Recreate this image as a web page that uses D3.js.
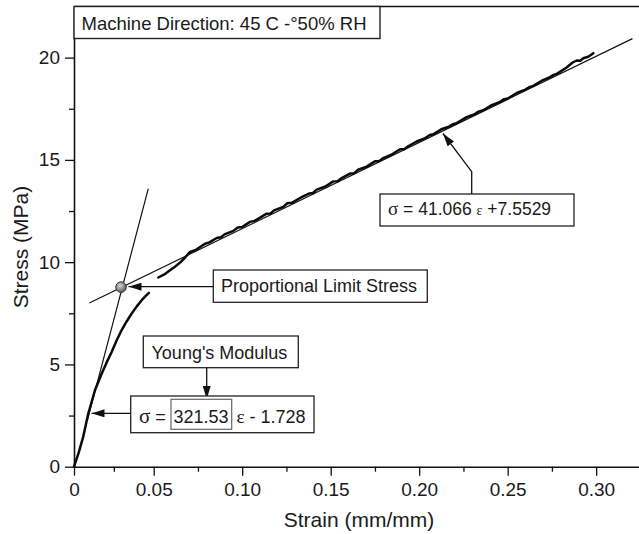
<!DOCTYPE html>
<html>
<head>
<meta charset="utf-8">
<script src="https://cdn.jsdelivr.net/npm/d3@7"></script>
<style>
  html, body { margin: 0; padding: 0; background: #fff; }
  svg { display: block; }
  text { font-family: "Liberation Sans", Arial, sans-serif; fill: #1a1a1a; }
</style>
</head>
<body>
<svg id="chart" width="639" height="534"></svg>
<script>
// ---------- data ----------
const strainTicks = [0, 0.05, 0.10, 0.15, 0.20, 0.25, 0.30];
const strainTickLabels = ["0", "0.05", "0.10", "0.15", "0.20", "0.25", "0.30"];
const strainMinorTicks = [0.025, 0.075, 0.125, 0.175, 0.225, 0.275];
const stressTicks = [0, 5, 10, 15, 20];
const stressMinorTicks = [2.5, 7.5, 12.5, 17.5];

// measured stress-strain curve, elastic part (strain, stress MPa)
const curveElastic = [
  [0, 0], [0.0030, 0.70], [0.0058, 1.47], [0.0090, 2.61], [0.0132, 3.75],
  [0.0174, 4.56], [0.0205, 5.10], [0.0237, 5.62], [0.0268, 6.18], [0.0299, 6.68],
  [0.0330, 7.10], [0.0362, 7.49], [0.0395, 7.85], [0.0425, 8.14], [0.0450, 8.35], [0.0470, 8.50]
];
// measured curve, plastic part
const curvePlastic = [
  [0.0526, 9.25], [0.0560, 9.40], [0.0592, 9.60], [0.0620, 9.78], [0.0649, 9.98],
  [0.0680, 10.25], [0.0705, 10.50], [0.0735, 10.58], [0.0762, 10.74], [0.0790, 10.90],
  [0.0815, 10.97], [0.0856, 11.18], [0.0880, 11.22], [0.0900, 11.36], [0.0950, 11.53],
  [0.0975, 11.70], [0.1000, 11.72], [0.1044, 11.97], [0.1070, 12.02], [0.1090, 12.12],
  [0.1138, 12.37], [0.1160, 12.38], [0.1180, 12.53], [0.1232, 12.70], [0.1255, 12.88],
  [0.1280, 12.90], [0.1330, 13.15], [0.1380, 13.36], [0.1400, 13.38], [0.1421, 13.55],
  [0.1470, 13.70], [0.1515, 13.95], [0.1540, 13.96], [0.1560, 14.10], [0.1609, 14.33],
  [0.1630, 14.33], [0.1655, 14.52], [0.1703, 14.67], [0.1750, 14.93], [0.1775, 14.95],
  [0.1797, 15.09], [0.1840, 15.24], [0.1892, 15.52], [0.1915, 15.52], [0.1940, 15.68],
  [0.1986, 15.90], [0.2030, 16.05], [0.2060, 16.22], [0.2080, 16.25], [0.2125, 16.50],
  [0.2168, 16.63], [0.2190, 16.74], [0.2212, 16.80], [0.2268, 17.09], [0.2310, 17.22],
  [0.2335, 17.36], [0.2362, 17.43], [0.2410, 17.68], [0.2457, 17.84], [0.2480, 17.97],
  [0.2500, 18.00], [0.2551, 18.27], [0.2600, 18.44], [0.2625, 18.57], [0.2645, 18.62],
  [0.2690, 18.86], [0.2739, 19.05], [0.2760, 19.16], [0.2780, 19.22], [0.2833, 19.52],
  [0.2865, 19.75], [0.2890, 19.86], [0.2910, 19.85], [0.2927, 19.97], [0.2955, 20.04],
  [0.2970, 20.13], [0.2984, 20.22]
];
// fitted lines (end points, strain / stress)
const plasticFit = [[0.0096, 8.0], [0.3205, 20.93]];
const youngFit = [[0.0085, 2.3], [0.0466, 13.6]];
const propLimit = [0.0295, 8.78];

const titleText = "Machine Direction: 45 C -°50% RH";
const xTitle = "Strain (mm/mm)";
const yTitle = "Stress (MPa)";

// ---------- drawing ----------
const svg = d3.select("#chart");
const x = d3.scaleLinear().domain([0, 0.05, 0.3242]).range([74, 153.7, 639]);
const y = d3.scaleLinear().domain([0, 22.5]).range([466.7, 6.5]);

const defs = svg.append("defs");
defs.append("marker").attr("id", "arr")
  .attr("viewBox", "0 0 13 8").attr("refX", 13).attr("refY", 4)
  .attr("markerWidth", 13).attr("markerHeight", 8)
  .attr("markerUnits", "userSpaceOnUse").attr("orient", "auto")
  .append("path").attr("d", "M0,0 L13,4 L0,8 Z").attr("fill", "#111");
const grad = defs.append("radialGradient").attr("id", "ball")
  .attr("cx", "40%").attr("cy", "38%").attr("r", "65%");
grad.append("stop").attr("offset", "0%").attr("stop-color", "#d8d8d8");
grad.append("stop").attr("offset", "100%").attr("stop-color", "#555");

// top frame line
svg.append("line").attr("x1", x(0)).attr("x2", 639)
  .attr("y1", y(22.5)).attr("y2", y(22.5))
  .attr("stroke", "#111").attr("stroke-width", 1.6);

// axes
svg.append("g").attr("transform", `translate(0,${y(0)})`)
  .call(d3.axisBottom(x).tickValues(strainTicks).tickSize(9).tickSizeOuter(0).tickPadding(7)
    .tickFormat((d, i) => strainTickLabels[i]));
svg.append("g").attr("transform", `translate(0,${y(0)})`)
  .call(d3.axisBottom(x).tickValues(strainMinorTicks).tickSize(5).tickSizeOuter(0).tickFormat(""))
  .select(".domain").remove();
svg.append("g").attr("transform", `translate(${x(0)},0)`)
  .call(d3.axisLeft(y).tickValues(stressTicks).tickSize(9).tickSizeOuter(0).tickPadding(5));
svg.append("g").attr("transform", `translate(${x(0)},0)`)
  .call(d3.axisLeft(y).tickValues(stressMinorTicks).tickSize(5).tickSizeOuter(0).tickFormat(""))
  .select(".domain").remove();
svg.selectAll(".domain").attr("stroke", "#111").attr("stroke-width", 1.6);
svg.selectAll(".tick line").attr("stroke", "#111").attr("stroke-width", 1.3);
svg.selectAll(".tick text").style("font-family", "Liberation Sans, Arial, sans-serif")
  .style("font-size", "19px").attr("fill", "#1a1a1a");

// axis titles
svg.append("text").attr("x", 359).attr("y", 527).attr("text-anchor", "middle")
  .style("font-size", "21px").text(xTitle);
svg.append("text").attr("transform", "translate(28,247) rotate(-90)").attr("text-anchor", "middle")
  .style("font-size", "21px").text(yTitle);

// fitted lines
const line = d3.line().x(d => x(d[0])).y(d => y(d[1]));
svg.append("path").attr("d", line(plasticFit)).attr("fill", "none")
  .attr("stroke", "#111").attr("stroke-width", 1.2);
svg.append("path").attr("d", line(youngFit)).attr("fill", "none")
  .attr("stroke", "#111").attr("stroke-width", 1.2);

// measured curve
[curveElastic, curvePlastic].forEach(c => {
  svg.append("path").attr("d", line(c)).attr("fill", "none")
    .attr("stroke", "#0a0a0a").attr("stroke-width", 2.5)
    .attr("stroke-linejoin", "round").attr("stroke-linecap", "round");
});

// proportional limit point
svg.append("circle").attr("cx", x(propLimit[0])).attr("cy", y(propLimit[1])).attr("r", 5.3)
  .attr("fill", "url(#ball)").attr("stroke", "#333").attr("stroke-width", 1);

// ---------- annotations ----------
function box(x0, y0, w, h, sw, col) {
  svg.append("rect").attr("x", x0).attr("y", y0).attr("width", w).attr("height", h)
    .attr("fill", "#fff").attr("stroke", col || "#222").attr("stroke-width", sw || 1.3);
}
function arrow(pts) {
  svg.append("path").attr("d", d3.line()(pts)).attr("fill", "none")
    .attr("stroke", "#111").attr("stroke-width", 1.3).attr("marker-end", "url(#arr)");
}

// title box
box(x(0), y(22.5), 306, 32, 1.4);
svg.append("text").attr("x", 81.5).attr("y", 30).style("font-size", "18.5px").text(titleText);

// plastic fit equation
arrow([[471.7, 194], [471.7, 171.7], [443, 133.5]]);
box(380, 194, 194, 32);
const t1 = svg.append("text").attr("x", 388).attr("y", 215).style("font-size", "17.5px");
t1.append("tspan").style("font-family", "Liberation Serif, serif").style("font-size", "19px").text("σ");
t1.append("tspan").text(" = 41.066 ");
t1.append("tspan").style("font-family", "Liberation Serif, serif").style("font-size", "14px").text("ε");
t1.append("tspan").text(" +7.5529");

// proportional limit stress
arrow([[213.3, 286.7], [128.5, 286.7]]);
box(213.3, 270, 214, 32.3);
svg.append("text").attr("x", 221).attr("y", 292.3).style("font-size", "18px").text("Proportional Limit Stress");

// Young's modulus
box(143.3, 336, 155, 31.7);
svg.append("text").attr("x", 151.5).attr("y", 359).style("font-size", "18px").text("Young's Modulus");
arrow([[206.7, 367.7], [206.7, 399]]);

// elastic fit equation
arrow([[130.7, 413.3], [91.5, 413.3]]);
box(130.7, 396, 183.3, 36.7);
box(171, 399.3, 60.7, 30, 1.2, "#666");
const t0 = svg.append("text").attr("x", 139).attr("y", 422.7).style("font-size", "18px");
t0.append("tspan").style("font-family", "Liberation Serif, serif").style("font-size", "21px").text("σ");
t0.append("tspan").text(" =");
svg.append("text").attr("x", 173.5).attr("y", 422.7).style("font-size", "18px").text("321.53");
const t2 = svg.append("text").attr("x", 236.5).attr("y", 422.7).style("font-size", "18px");
t2.append("tspan").style("font-family", "Liberation Serif, serif").style("font-size", "19px").text("ε");
t2.append("tspan").text(" - 1.728");
</script>
</body>
</html>
